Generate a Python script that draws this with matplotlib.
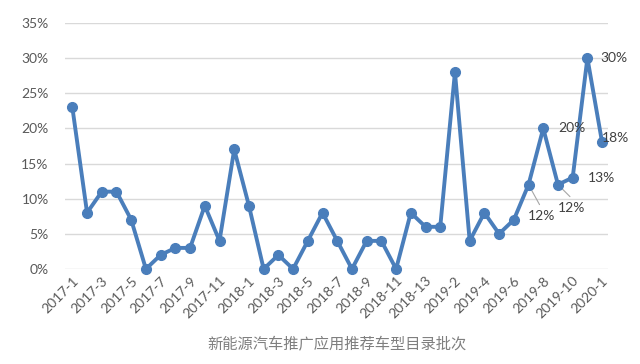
import matplotlib
matplotlib.use("Agg")
import matplotlib.pyplot as plt
import matplotlib.transforms as mtransforms
from matplotlib.ticker import FuncFormatter, MultipleLocator

categories = (
    [f"2017-{i}" for i in range(1, 13)]
    + [f"2018-{i}" for i in range(1, 14)]
    + [f"2019-{i}" for i in range(1, 12)]
    + ["2020-1"]
)
values = [23, 8, 11, 11, 7, 0, 2, 3, 3, 9, 4, 17,
          9, 0, 2, 0, 4, 8, 4, 0, 4, 4, 0, 8, 6,
          6, 28, 4, 8, 5, 7, 12, 20, 12, 13, 30, 18]
xlabel = "新能源汽车推广应用推荐车型目录批次"
# labelled points: index -> (dx px, dy px, leader)
labelled = {35: (13, 0, False), 32: (15, 0, False), 36: (0, 4, False),
            34: (15, 0, False), 33: (0, -23, True), 31: (-1, -31, True)}

plt.rcParams['font.family'] = ['Lato', 'Noto Sans CJK SC', 'DejaVu Sans']

fig = plt.figure(figsize=(6.4, 3.64), dpi=100)
ax = fig.add_axes([0.102, 0.261, 0.848, 0.676])

x = list(range(len(categories)))
ys = [v / 100 for v in values]
ax.plot(x, ys, color='#4a7ebb', lw=2.8, marker='o', ms=7, zorder=3, clip_on=False)

ax.set_ylim(0, 0.35)
ax.set_xlim(-0.48, 36.4)
ax.yaxis.set_major_locator(MultipleLocator(0.05))
ax.yaxis.set_major_formatter(FuncFormatter(lambda v, p: f"{v*100:.0f}%"))
ax.grid(axis='y', color='#d9d9d9', lw=1)
ax.set_axisbelow(True)
for s in ax.spines.values():
    s.set_visible(False)

ax.set_xticks(x[::2])
ax.set_xticklabels(categories[::2], rotation=45, ha='right', va='center',
                   rotation_mode='anchor', fontsize=10, color='#595959')
ax.tick_params(axis='x', length=0, pad=7)
ax.tick_params(axis='y', length=0, pad=12, labelsize=10, labelcolor='#595959')
shift = mtransforms.ScaledTranslation(4 / 100, 0, fig.dpi_scale_trans)
for lab in ax.get_xticklabels():
    lab.set_transform(lab.get_transform() + shift)

for i, (dx, dy, leader) in labelled.items():
    xy = (x[i], ys[i])
    ax.annotate(f"{values[i]}%", xy=xy, xytext=(dx, dy), textcoords='offset pixels',
                ha='left', va='center', fontsize=10, color='#404040', zorder=4)
    if leader:
        ax.annotate("", xy=xy, xytext=(dx + 12, dy + 11), textcoords='offset pixels',
                    arrowprops=dict(arrowstyle='-', color='#a6a6a6', lw=0.8,
                                    shrinkA=0, shrinkB=2), zorder=2)

fig.text(0.527, 0.052, xlabel, ha='center', va='center', fontsize=11,
         color='#7f7f7f', family=['Noto Sans CJK SC', 'DejaVu Sans'])

fig.savefig("out.png", dpi=100, facecolor='white')
